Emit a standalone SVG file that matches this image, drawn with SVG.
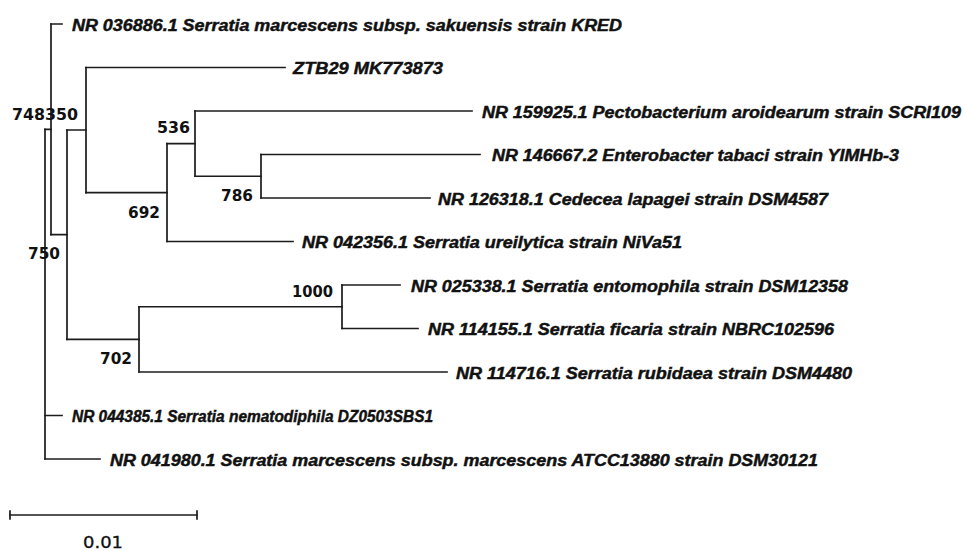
<svg xmlns="http://www.w3.org/2000/svg" width="964" height="551" viewBox="0 0 964 551">
<style>
.bg{fill:#ffffff}
.br{fill:none;stroke:#1c1c1c;stroke-width:1.7;stroke-linecap:square}
.leaf{font-family:"Liberation Sans",Arial,sans-serif;font-weight:bold;font-style:italic;font-size:16px;fill:#111;stroke:#111;stroke-width:0.45}
.bs{font-family:"DejaVu Sans",Verdana,sans-serif;font-weight:bold;font-size:16px;fill:#111}
.sc{font-family:"DejaVu Sans",Verdana,sans-serif;font-size:16px;fill:#111;stroke:#111;stroke-width:0.3}
</style>
<rect class="bg" x="0" y="0" width="964" height="551"/>
<g id="connectors">
<path class="br" d="M45 129.4V459 M51 24V234.7 M67 130V339.4 M86 67.5V192.6 M167 143.6V241.5 M195 111V176.25 M261 154.5V198 M139 306.75V372 M342 285V328.5"/>
<path class="br" d="M45 129.4H51 M45 415.5H62 M45 459H100 M51 24H62 M51 234.7H67 M67 130H86 M67 339.4H139 M86 67.5H285 M86 192.6H167 M167 143.6H195 M167 241.5H293 M195 111H472 M195 176.25H261 M261 154.5H480 M261 198H430 M139 306.75H342 M139 372H447 M342 285H400 M342 328.5H418"/>
</g>
<g id="leaf-NR036886"><text class="leaf" x="72" y="30.5" textLength="550" lengthAdjust="spacingAndGlyphs">NR 036886.1 Serratia marcescens subsp. sakuensis strain KRED</text></g>
<g id="leaf-ZTB29"><text class="leaf" x="293" y="74" textLength="150" lengthAdjust="spacingAndGlyphs">ZTB29 MK773873</text></g>
<g id="leaf-NR159925"><text class="leaf" x="482" y="117.5" textLength="479" lengthAdjust="spacingAndGlyphs">NR 159925.1 Pectobacterium aroidearum strain SCRI109</text></g>
<g id="leaf-NR146667"><text class="leaf" x="492" y="161" textLength="407" lengthAdjust="spacingAndGlyphs">NR 146667.2 Enterobacter tabaci strain YIMHb-3</text></g>
<g id="leaf-NR126318"><text class="leaf" x="438" y="204.5" textLength="390" lengthAdjust="spacingAndGlyphs">NR 126318.1 Cedecea lapagei strain DSM4587</text></g>
<g id="leaf-NR042356"><text class="leaf" x="302" y="248" textLength="380" lengthAdjust="spacingAndGlyphs">NR 042356.1 Serratia ureilytica strain NiVa51</text></g>
<g id="leaf-NR025338"><text class="leaf" x="411" y="291.5" textLength="437" lengthAdjust="spacingAndGlyphs">NR 025338.1 Serratia entomophila strain DSM12358</text></g>
<g id="leaf-NR114155"><text class="leaf" x="428" y="335" textLength="406" lengthAdjust="spacingAndGlyphs">NR 114155.1 Serratia ficaria strain NBRC102596</text></g>
<g id="leaf-NR114716"><text class="leaf" x="456" y="378.5" textLength="396" lengthAdjust="spacingAndGlyphs">NR 114716.1 Serratia rubidaea strain DSM4480</text></g>
<g id="leaf-NR044385"><text class="leaf" x="72" y="422" textLength="361" lengthAdjust="spacingAndGlyphs">NR 044385.1 Serratia nematodiphila DZ0503SBS1</text></g>
<g id="leaf-NR041980"><text class="leaf" x="110" y="465.5" textLength="708" lengthAdjust="spacingAndGlyphs">NR 041980.1 Serratia marcescens subsp. marcescens ATCC13880 strain DSM30121</text></g>
<g id="node-748"><text class="bs" x="12" y="120" textLength="33" lengthAdjust="spacingAndGlyphs">748</text></g>
<g id="node-350"><text class="bs" x="45" y="120" textLength="33" lengthAdjust="spacingAndGlyphs">350</text></g>
<g id="node-536"><text class="bs" x="157" y="133" textLength="33" lengthAdjust="spacingAndGlyphs">536</text></g>
<g id="node-786"><text class="bs" x="221" y="201" textLength="32" lengthAdjust="spacingAndGlyphs">786</text></g>
<g id="node-692"><text class="bs" x="128" y="218" textLength="32" lengthAdjust="spacingAndGlyphs">692</text></g>
<g id="node-750"><text class="bs" x="28" y="259" textLength="32" lengthAdjust="spacingAndGlyphs">750</text></g>
<g id="node-1000"><text class="bs" x="292" y="297" textLength="41" lengthAdjust="spacingAndGlyphs">1000</text></g>
<g id="node-702"><text class="bs" x="100" y="364" textLength="32" lengthAdjust="spacingAndGlyphs">702</text></g>
<g id="scale-bar">
<path class="br" d="M10 515H197" stroke-width="2.2"/>
<path class="br" d="M10 511V519 M197 511V519" stroke-width="2"/>
<text class="sc" x="83" y="548" textLength="40" lengthAdjust="spacingAndGlyphs">0.01</text>
</g>
</svg>
